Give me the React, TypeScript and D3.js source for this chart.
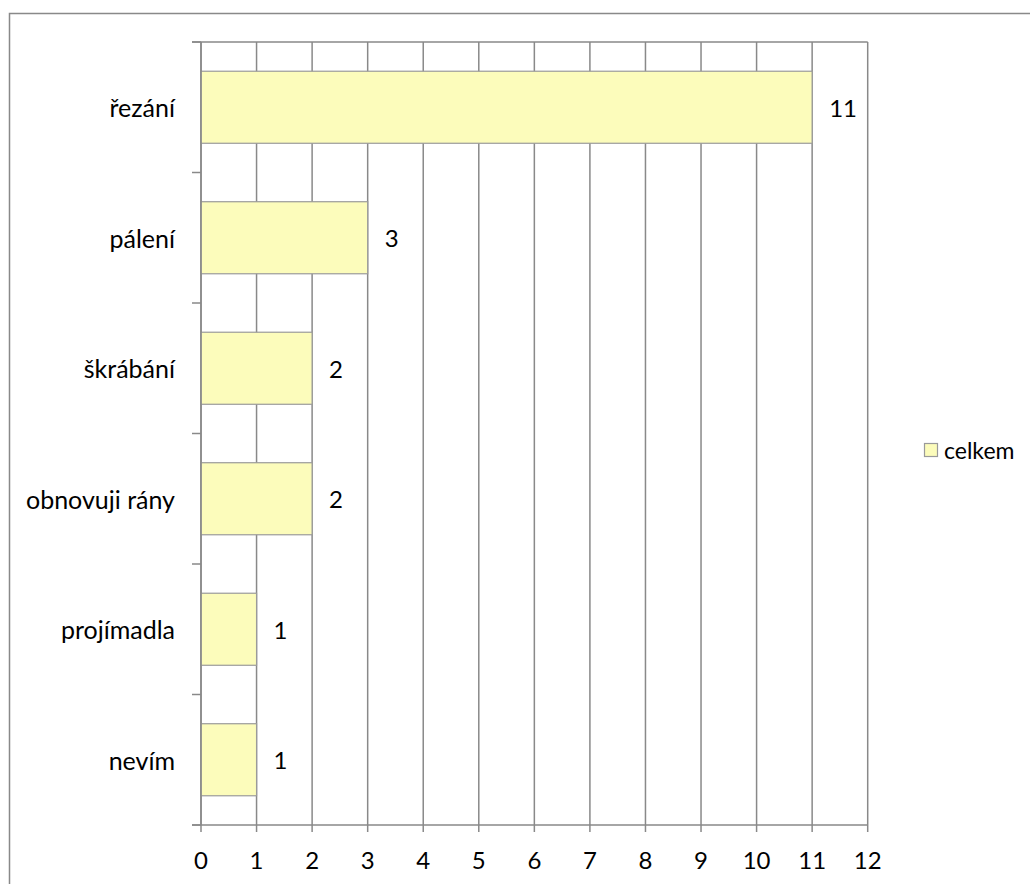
import React from "react";
import * as d3 from "d3";

const categories = ["řezání", "pálení", "škrábání ", "obnovuji rány", "projímadla", "nevím"];
const values = [11, 3, 2, 2, 1, 1];
const xTicks = [0, 1, 2, 3, 4, 5, 6, 7, 8, 9, 10, 11, 12];
const seriesName = "celkem";

const W = 1030;
const H = 884;
const plot = { left: 201, right: 867.7, top: 42, bottom: 825 };
const gridColor = "#898989";
const barFill = "#FCFCBB";
const barStroke = "#9A9A9A";
const font = "Lato, 'Open Sans', sans-serif";
const fontSize = 24;

export default function App() {
  const x = d3.scaleLinear().domain([0, 12]).range([plot.left, plot.right]);
  const y = d3.scaleBand<string>().domain(categories).range([plot.top, plot.bottom]).padding(0);
  const step = y.step();
  const barH = step * 0.552;

  return (
    <svg width={W} height={H} style={{ display: "block", position: "absolute", left: 0, top: 0 }}>
      <rect x={0} y={0} width={W} height={H} fill="#fff" />
      <rect x={9.5} y={13.5} width={W + 20} height={H + 20} fill="none" stroke={gridColor} strokeWidth={1.5} />

      {/* vertical gridlines */}
      {xTicks.map((t) => (
        <line key={"g" + t} x1={x(t)} x2={x(t)} y1={plot.top} y2={plot.bottom} stroke={gridColor} strokeWidth={1.5} />
      ))}
      {/* top frame line */}
      <line x1={plot.left - 9} x2={plot.right} y1={plot.top} y2={plot.top} stroke={gridColor} strokeWidth={1.5} />

      {/* bars */}
      {categories.map((c, i) => {
        const yc = (y(c) as number) + step / 2;
        return (
          <rect
            key={"b" + i}
            x={x(0)}
            y={yc - barH / 2}
            width={x(values[i]) - x(0)}
            height={barH}
            fill={barFill}
            stroke={barStroke}
            strokeWidth={1.2}
          />
        );
      })}

      {/* category axis */}
      <line x1={plot.left} x2={plot.left} y1={plot.top} y2={plot.bottom} stroke={gridColor} strokeWidth={1.5} />
      {d3.range(categories.length + 1).map((k) => (
        <line
          key={"ct" + k}
          x1={plot.left - 9}
          x2={plot.left}
          y1={plot.top + k * step}
          y2={plot.top + k * step}
          stroke={gridColor}
          strokeWidth={1.5}
        />
      ))}
      {categories.map((c, i) => (
        <text
          key={"cl" + i}
          x={175}
          y={(y(c) as number) + step / 2}
          textAnchor="end"
          dominantBaseline="central"
          fontFamily={font}
          fontSize={25}
          fill="#000"
        >
          {c}
        </text>
      ))}

      {/* value axis */}
      <line x1={plot.left - 9} x2={plot.right} y1={plot.bottom} y2={plot.bottom} stroke={gridColor} strokeWidth={1.5} />
      {xTicks.map((t) => (
        <g key={"xt" + t}>
          <line x1={x(t)} x2={x(t)} y1={plot.bottom} y2={plot.bottom + 7} stroke={gridColor} strokeWidth={1.5} />
          <text
            x={x(t)}
            y={plot.bottom + 34}
            textAnchor="middle"
            dominantBaseline="central"
            fontFamily={font}
            fontSize={fontSize}
            fill="#000"
          >
            {t}
          </text>
        </g>
      ))}

      {/* value labels */}
      {categories.map((c, i) => (
        <text
          key={"vl" + i}
          x={x(values[i]) + 17}
          y={(y(c) as number) + step / 2}
          dominantBaseline="central"
          fontFamily={font}
          fontSize={fontSize}
          fill="#000"
        >
          {values[i]}
        </text>
      ))}

      {/* legend */}
      <rect x={924.5} y={443.5} width={13} height={13} fill={barFill} stroke={barStroke} strokeWidth={1.2} />
      <text x={944} y={450} dominantBaseline="central" fontFamily={font} fontSize={23} fill="#000">
        {seriesName}
      </text>
    </svg>
  );
}
